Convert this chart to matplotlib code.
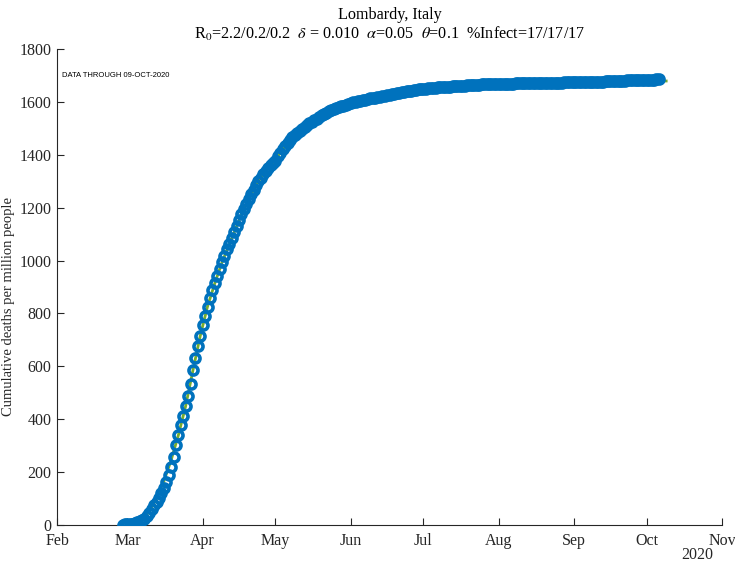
import datetime as dt
import matplotlib
matplotlib.use('Agg')
import matplotlib.pyplot as plt

# observed cumulative deaths per million, daily from 28-Feb-2020
start_date = dt.date(2020, 2, 28)
deaths_feb = [1.7, 2.3]
deaths_mar = [2.4, 3.8, 5.5, 7.3, 9.7, 13.4, 17.3, 24.5, 33.1, 46.5, 61.3, 74.0, 88.5, 102.0,
              121.1, 141.2, 163.0, 190.7, 220.5, 258.4, 300.7, 340.5, 377.3, 413.3, 449.7,
              488.2, 535.0, 585.9, 632.2, 675.7, 715.6]
deaths_apr = [754.8, 791.3, 826.1, 858.4, 887.2, 914.7, 942.7, 968.4, 994.2, 1018.7, 1042.8,
              1062.8, 1084.6, 1107.6, 1130.9, 1153.9, 1176.0, 1196.8, 1214.0, 1231.2, 1250.4,
              1267.4, 1285.3, 1301.8, 1314.0, 1325.5, 1337.9, 1349.4, 1359.7, 1369.0]
deaths_may = [1378, 1395, 1408, 1420, 1432, 1444, 1456, 1466, 1474, 1482, 1490, 1498, 1506,
              1513, 1519, 1525, 1531, 1537, 1543, 1549, 1554, 1559, 1564, 1568, 1572, 1576,
              1580, 1583, 1586, 1589, 1592]
deaths_jun = [1595, 1598, 1601, 1603, 1605, 1607, 1609, 1611, 1613, 1615, 1616, 1618, 1619,
              1621, 1623, 1625, 1627, 1629, 1631, 1633, 1635, 1637, 1638, 1640, 1641, 1643,
              1644, 1645, 1647, 1648]
deaths_jul = [1649, 1650, 1651, 1652, 1653, 1654, 1655, 1656, 1656, 1657, 1658, 1658, 1659,
              1660, 1660, 1661, 1662, 1662, 1663, 1663, 1664, 1664, 1665, 1665, 1666, 1666,
              1666, 1667, 1667, 1667, 1668]
deaths_aug = [1668, 1668, 1668, 1669, 1669, 1669, 1669, 1670, 1670, 1670, 1670, 1670, 1671,
              1671, 1671, 1671, 1671, 1672, 1672, 1672, 1672, 1672, 1673, 1673, 1673, 1673,
              1673, 1674, 1674, 1674, 1674]
deaths_sep = [1674, 1675, 1675, 1675, 1675, 1676, 1676, 1676, 1676, 1677, 1677, 1677, 1677,
              1678, 1678, 1678, 1679, 1679, 1679, 1680, 1680, 1680, 1681, 1681, 1681, 1682,
              1682, 1682, 1683, 1683]
deaths_oct = [1683, 1684, 1684, 1684, 1685, 1685]

# model curve
model_dates = ['2020-03-01', '2020-03-04', '2020-03-07', '2020-03-10', '2020-03-13', '2020-03-16',
               '2020-03-19', '2020-03-22', '2020-03-25', '2020-03-28', '2020-03-31', '2020-04-03',
               '2020-04-06', '2020-04-09', '2020-04-12', '2020-04-15', '2020-04-18', '2020-04-21',
               '2020-04-24', '2020-04-27', '2020-04-30', '2020-05-04', '2020-05-08', '2020-05-12',
               '2020-05-16', '2020-05-20', '2020-05-25', '2020-05-31', '2020-06-10', '2020-06-20',
               '2020-06-30', '2020-07-15', '2020-07-31', '2020-08-15', '2020-08-31', '2020-09-15',
               '2020-09-30', '2020-10-09']
model_vals = [1, 6, 20, 50, 100, 165, 245, 340, 450, 585, 715, 826, 914, 994, 1062, 1130, 1196,
              1250, 1300, 1338, 1369, 1420, 1466, 1498, 1525, 1549, 1572, 1592, 1615, 1633,
              1648, 1660, 1668, 1671, 1674, 1676, 1678, 1679]

month_labels = ['Feb', 'Mar', 'Apr', 'May', 'Jun', 'Jul', 'Aug', 'Sep', 'Oct', 'Nov']

deaths = (deaths_feb + deaths_mar + deaths_apr + deaths_may + deaths_jun + deaths_jul
          + deaths_aug + deaths_sep + deaths_oct)
dates = [start_date + dt.timedelta(days=i) for i in range(len(deaths))]
model_dt = [dt.datetime.strptime(d, '%Y-%m-%d') for d in model_dates]

plt.rcParams['font.family'] = 'Liberation Serif'
plt.rcParams['mathtext.fontset'] = 'stix'

blue = (0, 0.447, 0.741)
green = (0.466, 0.674, 0.188)
axcol = '#262626'

fig = plt.figure(figsize=(7.35, 5.62), dpi=100)
ax = fig.add_axes([0.0776, 0.0658, 0.9047, 0.847])

# model line under the hollow markers
ax.plot(model_dt, model_vals, '-', color=green, lw=2, zorder=2)
ax.plot(dates, deaths, 'o', color=blue, mfc='none', mec=blue, ms=6.5, mew=2.6, zorder=3)

ax.set_xlim(dt.date(2020, 2, 1), dt.date(2020, 11, 1))
ax.set_ylim(0, 1800)
ax.set_yticks(range(0, 1801, 200))
month_ticks = [dt.date(2020, m, 1) for m in range(2, 12)]
ax.set_xticks(month_ticks)
ax.set_xticklabels(month_labels)

for s in ['top', 'right']:
    ax.spines[s].set_visible(False)
for s in ['left', 'bottom']:
    ax.spines[s].set_color(axcol)
    ax.spines[s].set_linewidth(0.8)
ax.tick_params(direction='in', length=5, width=0.8, colors=axcol, labelsize=11.5)
ax.tick_params(axis='x', pad=6)
ax.tick_params(axis='y', pad=4)

ax.set_ylabel('Cumulative deaths per million people', fontsize=10.5, color=axcol)
ax.yaxis.set_label_coords(-0.063, 0.46)
ax.set_title('Lombardy, Italy\n'
             r'R$_0$=2.2/0.2/0.2  $\delta$ = 0.010  $\alpha$=0.05  $\theta$=0.1  %Infect=17/17/17',
             fontsize=11.6, color='black', pad=7, linespacing=1.15)

ax.text(0.007, 0.945, 'DATA THROUGH 09-OCT-2020', transform=ax.transAxes,
        fontsize=5.5, family='Liberation Sans', color='black', va='center')
ax.text(0.963, -0.063, '2020', transform=ax.transAxes, fontsize=11.5, color=axcol,
        ha='center', va='center')

fig.savefig('out.png', dpi=100)
